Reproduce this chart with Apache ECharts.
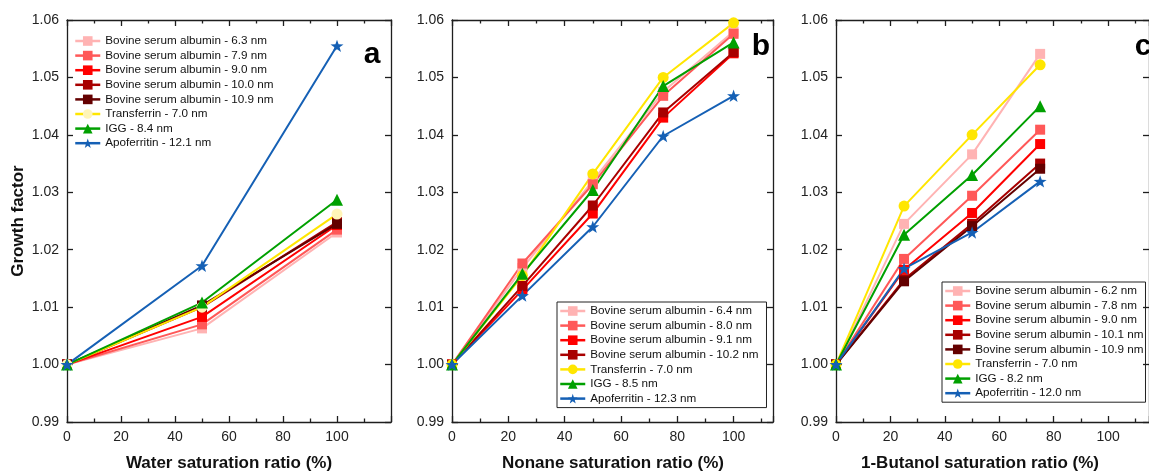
<!DOCTYPE html>
<html>
<head>
<meta charset="utf-8">
<script src="https://cdn.jsdelivr.net/npm/echarts@6/dist/echarts.min.js"></script>
<style>
  html, body { margin: 0; padding: 0; background: #fff; }
  #chart { width: 1149px; height: 472px; }
</style>
</head>
<body>
<div id="chart"></div>
<script>
// Saturation ratios (%) for each vapour
const waterRatio = [0, 50, 100];
const nonaneRatio = [0, 25, 50, 75, 100];
const butanolRatio = [0, 25, 50, 75];

// Growth factor, water vapour
const waterBsa63 = [1.000, 1.0063, 1.0230];
const waterBsa79 = [1.000, 1.0070, 1.0235];
const waterBsa90 = [1.000, 1.0083, 1.0243];
const waterBsa100 = [1.000, 1.0100, 1.0248];
const waterBsa109 = [1.000, 1.0103, 1.0245];
const waterTransferrin = [1.000, 1.0100, 1.0262];
const waterIgg = [1.000, 1.0108, 1.0287];
const waterApoferritin = [1.000, 1.0172, 1.0555];

// Growth factor, nonane vapour
const nonaneBsa64 = [1.000, 1.0168, 1.0320, 1.0475, 1.0580];
const nonaneBsa80 = [1.000, 1.0176, 1.0314, 1.0468, 1.0576];
const nonaneBsa91 = [1.000, 1.0130, 1.0263, 1.0430, 1.0542];
const nonaneBsa102 = [1.000, 1.0137, 1.0277, 1.0439, 1.0544];
const nonaneTransferrin = [1.000, 1.0155, 1.0332, 1.0500, 1.0595];
const nonaneIgg = [1.000, 1.0158, 1.0304, 1.0485, 1.0561];
const nonaneApoferritin = [1.000, 1.0120, 1.0240, 1.0398, 1.0468];

// Growth factor, 1-butanol vapour
const butanolBsa62 = [1.000, 1.0245, 1.0366, 1.0541];
const butanolBsa78 = [1.000, 1.0184, 1.0294, 1.0409];
const butanolBsa90 = [1.000, 1.0165, 1.0264, 1.0384];
const butanolBsa101 = [1.000, 1.0148, 1.0245, 1.0350];
const butanolBsa109 = [1.000, 1.0145, 1.0241, 1.0341];
const butanolTransferrin = [1.000, 1.0276, 1.0400, 1.0522];
const butanolIgg = [1.000, 1.0226, 1.0330, 1.0450];
const butanolApoferritin = [1.000, 1.0167, 1.0230, 1.0319];

// Legend names per panel
const waterNames = [
  'Bovine serum albumin - 6.3 nm', 'Bovine serum albumin - 7.9 nm', 'Bovine serum albumin - 9.0 nm',
  'Bovine serum albumin - 10.0 nm', 'Bovine serum albumin - 10.9 nm', 'Transferrin - 7.0 nm',
  'IGG - 8.4 nm', 'Apoferritin - 12.1 nm'
];
const nonaneNames = [
  'Bovine serum albumin - 6.4 nm', 'Bovine serum albumin - 8.0 nm', 'Bovine serum albumin - 9.1 nm',
  'Bovine serum albumin - 10.2 nm', 'Transferrin - 7.0 nm', 'IGG - 8.5 nm', 'Apoferritin - 12.3 nm'
];
const butanolNames = [
  'Bovine serum albumin - 6.2 nm', 'Bovine serum albumin - 7.8 nm', 'Bovine serum albumin - 9.0 nm',
  'Bovine serum albumin - 10.1 nm', 'Bovine serum albumin - 10.9 nm', 'Transferrin - 7.0 nm',
  'IGG - 8.2 nm', 'Apoferritin - 12.0 nm'
];

// Axis titles and panel letters
const xTitles = ['Water saturation ratio (%)', 'Nonane saturation ratio (%)', '1-Butanol saturation ratio (%)'];
const yTitle = 'Growth factor';
const panelLetters = ['a', 'b', 'c'];

const FONT = '"Liberation Sans", Arial, sans-serif';
const AXIS_COLOR = '#1e1e1e';
const STAR = 'path://M0,-10 L2.35,-3.24 L9.51,-3.09 L3.8,1.24 L5.88,8.09 L0,4 L-5.88,8.09 L-3.8,1.24 L-9.51,-3.09 L-2.35,-3.24 Z';

// Marker styles: [line colour, marker colour, symbol, size]
const STYLE = {
  bsa1: ['#ffb3b3', '#ffb3b3', 'rect', 10],
  bsa2: ['#ff5858', '#ff5858', 'rect', 10],
  bsa3: ['#ff0000', '#ff0000', 'rect', 10],
  bsa4: ['#a80000', '#a80000', 'rect', 10],
  bsa5: ['#640000', '#640000', 'rect', 10],
  trf: ['#ffe600', '#ffe600', 'circle', 11],
  trfPale: ['#ffe600', '#fff5b8', 'circle', 11],
  igg: ['#00a000', '#00a000', 'triangle', 12],
  apo: ['#1560b5', '#1560b5', STAR, 13]
};

function makeSeries(name, xs, ys, style, grid) {
  const [lc, mc, sym, size] = STYLE[style];
  return {
    type: 'line',
    name: name,
    xAxisIndex: grid * 2,
    yAxisIndex: grid * 2,
    data: xs.map((x, i) => [x, ys[i]]),
    symbol: sym,
    symbolSize: size,
    symbolKeepAspect: true,
    showAllSymbol: true,
    lineStyle: { color: lc, width: 2 },
    itemStyle: { color: mc, borderWidth: 0 },
    emphasis: { disabled: true },
    animation: false
  };
}

const grids = [
  { left: 67, top: 20, width: 324, height: 402, max: 120 },
  { left: 452, top: 20, width: 321, height: 402, max: 114 },
  { left: 836, top: 20, width: 338, height: 402, max: 115 }
];

const lineStyle = { color: AXIS_COLOR, width: 1.3 };
const xAxes = [];
const yAxes = [];
grids.forEach((g, i) => {
  ['bottom', 'top'].forEach(pos => {
    xAxes.push({
      type: 'value', gridIndex: i, position: pos, min: 0, max: g.max, interval: 20,
      axisLine: { show: true, onZero: false, lineStyle },
      axisTick: { show: true, inside: true, length: 6, lineStyle },
      minorTick: { show: true, splitNumber: 2, length: 3.5, lineStyle },
      splitLine: { show: false },
      axisLabel: {
        show: pos === 'bottom', margin: 8, color: '#222', fontSize: 14, fontFamily: FONT,
        showMaxLabel: false
      }
    });
  });
  ['left', 'right'].forEach(pos => {
    yAxes.push({
      type: 'value', gridIndex: i, position: pos, min: 0.99, max: 1.06, interval: 0.01,
      axisLine: { show: true, onZero: false, lineStyle },
      axisTick: { show: true, inside: true, length: 6, lineStyle },
      splitLine: { show: false },
      axisLabel: {
        show: pos === 'left', margin: 8, color: '#222', fontSize: 14, fontFamily: FONT,
        formatter: v => v.toFixed(2)
      }
    });
  });
});

const series = [
  makeSeries(waterNames[0], waterRatio, waterBsa63, 'bsa1', 0),
  makeSeries(waterNames[1], waterRatio, waterBsa79, 'bsa2', 0),
  makeSeries(waterNames[2], waterRatio, waterBsa90, 'bsa3', 0),
  makeSeries(waterNames[3], waterRatio, waterBsa100, 'bsa4', 0),
  makeSeries(waterNames[4], waterRatio, waterBsa109, 'bsa5', 0),
  makeSeries(waterNames[5], waterRatio, waterTransferrin, 'trfPale', 0),
  makeSeries(waterNames[6], waterRatio, waterIgg, 'igg', 0),
  makeSeries(waterNames[7], waterRatio, waterApoferritin, 'apo', 0),

  makeSeries(nonaneNames[0], nonaneRatio, nonaneBsa64, 'bsa1', 1),
  makeSeries(nonaneNames[1], nonaneRatio, nonaneBsa80, 'bsa2', 1),
  makeSeries(nonaneNames[2], nonaneRatio, nonaneBsa91, 'bsa3', 1),
  makeSeries(nonaneNames[3], nonaneRatio, nonaneBsa102, 'bsa4', 1),
  makeSeries(nonaneNames[4], nonaneRatio, nonaneTransferrin, 'trf', 1),
  makeSeries(nonaneNames[5], nonaneRatio, nonaneIgg, 'igg', 1),
  makeSeries(nonaneNames[6], nonaneRatio, nonaneApoferritin, 'apo', 1),

  makeSeries(butanolNames[0], butanolRatio, butanolBsa62, 'bsa1', 2),
  makeSeries(butanolNames[1], butanolRatio, butanolBsa78, 'bsa2', 2),
  makeSeries(butanolNames[2], butanolRatio, butanolBsa90, 'bsa3', 2),
  makeSeries(butanolNames[3], butanolRatio, butanolBsa101, 'bsa4', 2),
  makeSeries(butanolNames[4], butanolRatio, butanolBsa109, 'bsa5', 2),
  makeSeries(butanolNames[5], butanolRatio, butanolTransferrin, 'trf', 2),
  makeSeries(butanolNames[6], butanolRatio, butanolIgg, 'igg', 2),
  makeSeries(butanolNames[7], butanolRatio, butanolApoferritin, 'apo', 2)
];

// Transferrin shares its name across panels; pin the bright marker for panels b and c
function legendData(names) {
  return names.map(n => n.startsWith('Transferrin')
    ? { name: n, itemStyle: { color: '#ffe600' }, lineStyle: { color: '#ffe600' } }
    : { name: n });
}

const legendCommon = {
  orient: 'vertical', itemWidth: 25, itemHeight: 12, itemGap: 2.6,
  lineStyle: { width: 2.5 },
  textStyle: { fontSize: 11.7, color: '#111', fontFamily: FONT },
  selectedMode: false
};

const graphic = [];
xTitles.forEach((t, i) => {
  const cx = [229, 613, 980][i];
  graphic.push({
    type: 'text', x: cx, y: 463,
    style: { text: t, font: 'bold 17px ' + FONT, fill: '#111', align: 'center', verticalAlign: 'middle' }
  });
});
graphic.push({
  type: 'text', x: 18, y: 221, rotation: Math.PI / 2,
  style: { text: yTitle, font: 'bold 17px ' + FONT, fill: '#111', align: 'center', verticalAlign: 'middle' }
});
[[372, 55], [761, 47], [1143, 47]].forEach((p, i) => {
  graphic.push({
    type: 'text', x: p[0], y: p[1],
    style: { text: panelLetters[i], font: 'bold 30px ' + FONT, fill: '#000', align: 'center', verticalAlign: 'middle' }
  });
});

const chart = echarts.init(document.getElementById('chart'), null, { renderer: 'canvas' });
chart.setOption({
  animation: false,
  backgroundColor: '#fff',
  grid: grids.map(g => ({ left: g.left, top: g.top, width: g.width, height: g.height })),
  xAxis: xAxes,
  yAxis: yAxes,
  legend: [
    Object.assign({}, legendCommon, { left: 72, top: 33, padding: [2, 2, 2, 2], data: waterNames.map(n => ({ name: n })) }),
    Object.assign({}, legendCommon, {
      left: 557, top: 302, padding: [3, 8, 3, 2], borderColor: '#222', borderWidth: 1, data: legendData(nonaneNames)
    }),
    Object.assign({}, legendCommon, {
      left: 942, top: 282, padding: [3, 2, 3, 2], borderColor: '#222', borderWidth: 1, data: legendData(butanolNames)
    })
  ],
  graphic: graphic,
  series: series
});
</script>
</body>
</html>
